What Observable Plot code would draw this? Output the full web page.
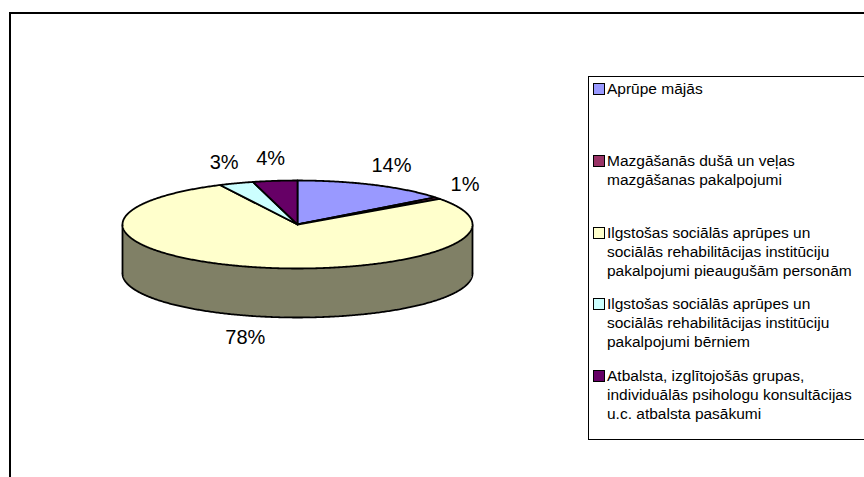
<!DOCTYPE html>
<html><head><meta charset="utf-8">
<script src="https://cdn.jsdelivr.net/npm/d3@7"></script>
<script src="https://cdn.jsdelivr.net/npm/@observablehq/plot@0.6"></script>
<style>
html,body{margin:0;padding:0;background:#fff;}
#wrap{position:relative;width:864px;height:477px;overflow:hidden;font-family:"Liberation Sans",Arial,sans-serif;}
#chart{position:absolute;left:0;top:0;}
#frame{position:absolute;left:9px;top:12px;width:1000px;height:600px;border-left:2px solid #000;border-top:2px solid #000;pointer-events:none;}
#legend{position:absolute;left:588px;top:76px;width:320px;height:364px;border:1px solid #000;box-sizing:border-box;background:#fff;}
.entry{position:absolute;left:0;font-size:15.5px;line-height:19px;color:#000;white-space:pre;}
.entry .sw{position:absolute;left:4px;top:4px;width:10px;height:10px;border:1px solid #000;}
.entry .tx{position:absolute;left:18px;top:0;}
</style>
</head><body>
<div id="wrap"><div id="chart"></div><div id="frame"></div><div id="legend"></div></div>
<script>
const categories = [
  "Aprūpe mājās",
  "Mazgāšanās dušā un veļas\nmazgāšanas pakalpojumi",
  "Ilgstošas sociālās aprūpes un\nsociālās rehabilitācijas institūciju\npakalpojumi pieaugušām personām",
  "Ilgstošas sociālās aprūpes un\nsociālās rehabilitācijas institūciju\npakalpojumi bērniem",
  "Atbalsta, izglītojošās grupas,\nindividuālās psihologu konsultācijas\nu.c. atbalsta pasākumi"
];
const values = [14.4, 0.7, 77.6, 3.2, 4.1];
const colors = ["#9999FF", "#993366", "#FFFFCC", "#CCFFFF", "#660066"];

// layout constants (pixels)
const cx = 297, cy = 224, rx = 175, ry = 44, depth = 49;
const D = depth / ry;

const total = d3.sum(values);
const arcs = d3.pie().sort(null).value(d => d.value)(categories.map((c, i) => ({cat: c, value: values[i], color: colors[i]})));
const step = Math.PI / 360;

function sample(a0, a1) {
  const n = Math.max(2, Math.ceil((a1 - a0) / step));
  return d3.range(n + 1).map(k => a0 + (a1 - a0) * k / n);
}

// top faces
const topPts = arcs.flatMap(a => {
  const pts = [{cat: a.data.cat, x: 0, y: 0}];
  for (const t of sample(a.startAngle, a.endAngle)) pts.push({cat: a.data.cat, x: Math.sin(t), y: Math.cos(t)});
  pts.push({cat: a.data.cat, x: 0, y: 0});
  return pts;
});

// front sides
const sides = arcs.map(a => {
  const s0 = Math.max(a.startAngle, Math.PI / 2), s1 = Math.min(a.endAngle, 3 * Math.PI / 2);
  if (s1 <= s0) return null;
  const c = d3.rgb(a.data.color);
  const sideColor = d3.rgb(c.r / 2, c.g / 2, c.b / 2).formatHex();
  const pts = sample(s0, s1).map(t => ({x: Math.sin(t), y1: Math.cos(t), y2: Math.cos(t) - D}));
  return {pts, sideColor, s0, s1};
}).filter(Boolean);

const sideEdges = sides.flatMap(s => [s.s0, s.s1].map(t => ({x1: Math.sin(t), y1: Math.cos(t), x2: Math.sin(t), y2: Math.cos(t) - D})));

// labels
const labels = arcs.map(a => {
  const txt = Math.round(a.data.value / total * 100) + "%";
  const mid = (a.startAngle + a.endAngle) / 2;
  const s = Math.sin(mid), c = Math.cos(mid);
  const w = (txt.length - 1) * 11.1 + 17.8, h = 16, gx = 20, gy = 14;
  const px = cx + rx * s, py = cy - ry * c + (c < 0 ? depth : 0);
  const lx = px + s * (gx + w / 2), ly = py - c * (gy + h / 2);
  return {txt, x: (lx - cx) / rx, y: (cy - ly) / ry};
});

const marks = [];
for (const s of sides) {
  marks.push(Plot.areaY(s.pts, {x: "x", y1: "y1", y2: "y2", fill: s.sideColor, curve: "linear"}));
  marks.push(Plot.line(s.pts, {x: "x", y: "y2", stroke: "#000", strokeWidth: 1.8, curve: "linear"}));
}
marks.push(Plot.link(sideEdges, {x1: "x1", y1: "y1", x2: "x2", y2: "y2", stroke: "#000", strokeWidth: 1.8}));
marks.push(Plot.line(topPts, {x: "x", y: "y", z: "cat", fill: "cat", stroke: "#000", strokeWidth: 1.8, strokeLinejoin: "round", curve: "linear"}));
marks.push(Plot.text(labels, {x: "x", y: "y", text: "txt", fontSize: 20, fill: "#000", fontFamily: "Liberation Sans, Arial, sans-serif"}));

const chart = Plot.plot({
  width: 864, height: 477, margin: 0,
  x: {domain: [-1, 1], range: [cx - rx, cx + rx], axis: null},
  y: {domain: [1, -1], range: [cy - ry, cy + ry], axis: null},
  color: {type: "ordinal", domain: categories, range: colors},
  style: {background: "#fff", overflow: "visible"},
  marks
});
document.getElementById("chart").appendChild(chart);

// legend
const slot = 71.8;
const leg = document.getElementById("legend");
categories.forEach((c, i) => {
  const e = document.createElement("div");
  e.className = "entry";
  e.style.top = (2 + i * slot) + "px";
  const sw = document.createElement("div");
  sw.className = "sw"; sw.style.background = colors[i];
  const tx = document.createElement("div");
  tx.className = "tx"; tx.textContent = c;
  e.appendChild(sw); e.appendChild(tx);
  leg.appendChild(e);
});
</script>
</body></html>
